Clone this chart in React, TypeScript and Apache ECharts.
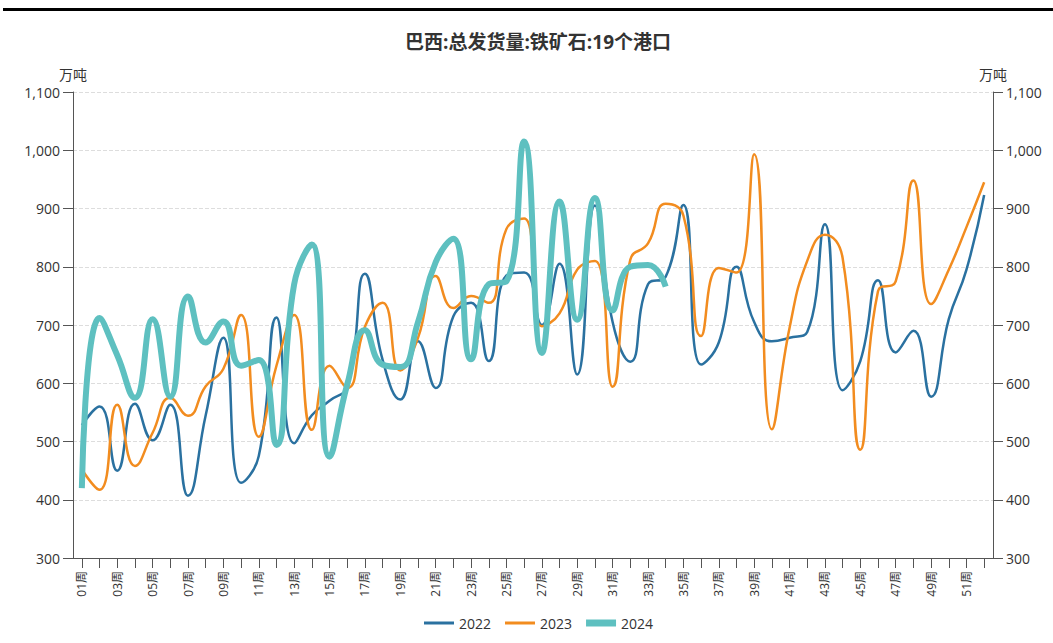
import React, { useEffect, useRef } from "react";
import * as echarts from "echarts";

const weeks = [
  "01周","02周","03周","04周","05周","06周","07周","08周","09周","10周",
  "11周","12周","13周","14周","15周","16周","17周","18周","19周","20周",
  "21周","22周","23周","24周","25周","26周","27周","28周","29周","30周",
  "31周","32周","33周","34周","35周","36周","37周","38周","39周","40周",
  "41周","42周","43周","44周","45周","46周","47周","48周","49周","50周",
  "51周","52周",
];

const s2022 = [
  528, 560, 450, 565, 502, 563, 407, 545, 678, 429,
  475, 713, 497, 545, 570, 595, 788, 640, 572, 672,
  592, 715, 738, 638, 785, 790, 700, 805, 615, 905,
  705, 637, 770, 783, 906, 632, 670, 800, 705, 672,
  678, 688, 873, 588, 638, 777, 653, 690, 577, 710,
  795, 923,
];

const s2023 = [
  452, 417, 563, 458, 515, 575, 544, 595, 625, 717,
  508, 630, 717, 520, 630, 592, 697, 738, 622, 678,
  784, 729, 750, 738, 865, 883, 698, 720, 795, 810,
  594, 812, 840, 908, 888, 681, 798, 790, 993, 521,
  695, 810, 855, 815, 486, 758, 775, 948, 736, 795,
  868, 945,
];

const s2024 = [
  420, 712, 648, 575, 710, 577, 749, 670, 706, 630,
  640, 494, 770, 838, 474, 598, 691, 632, 628, 705,
  808, 848, 641, 770, 775, 1015, 652, 912, 709, 918,
  725, 800, 803, 766,
];

const seriesNames = ["2022", "2023", "2024"];
const colors = ["#2a71a0", "#f28c1f", "#5ec0c0"];
const FONT = "'Open Sans', 'Noto Sans CJK SC', sans-serif";

export default function App() {
  const ref = useRef<HTMLDivElement>(null);
  useEffect(() => {
    if (!ref.current) return;
    const chart = echarts.init(ref.current, undefined, { renderer: "svg" });
    const fmt = (v: number) => v.toLocaleString("en-US");
    const yAxisBase = {
      type: "value" as const,
      min: 300,
      max: 1100,
      interval: 100,
      name: "万吨",
      nameLocation: "end" as const,
      nameGap: 11,
      nameTextStyle: { color: "#333", fontSize: 14, fontFamily: FONT },
      axisLine: { show: true, lineStyle: { color: "#555", width: 1 } },
      axisTick: { show: true, length: 10, lineStyle: { color: "#555" } },
      axisLabel: { color: "#333", fontSize: 14, margin: 13, fontFamily: FONT, formatter: fmt },
    };
    const thin = "path://M0 0h30v3H0z";
    const thick = "path://M0 0h30v7H0z";
    chart.setOption({
      animation: false,
      color: colors,
      textStyle: { fontFamily: FONT },
      title: {
        text: "巴西:总发货量:铁矿石:19个港口",
        left: 533,
        top: 27,
        textAlign: "center",
        textStyle: { fontSize: 19, fontWeight: "bold", color: "#333", fontFamily: FONT },
      },
      graphic: [
        { type: "rect", shape: { x: 3, y: 8, width: 1050, height: 3 }, style: { fill: "#000" } },
      ],
      legend: {
        data: [
          { name: seriesNames[0], icon: thin },
          { name: seriesNames[1], icon: thin },
          { name: seriesNames[2], icon: thick },
        ],
        left: 419,
        top: 611,
        itemWidth: 30,
        itemHeight: 14,
        itemGap: 14,
        textStyle: { fontSize: 14, color: "#333", fontFamily: FONT },
      },
      grid: { left: 73, right: 60, top: 92, bottom: 85, containLabel: false },
      xAxis: {
        type: "category",
        data: weeks,
        boundaryGap: true,
        axisLine: { show: true, lineStyle: { color: "#555" } },
        axisTick: { show: true, alignWithLabel: true, interval: 0, length: 10, lineStyle: { color: "#555" } },
        axisLabel: { rotate: 90, interval: 1, color: "#333", fontSize: 12, margin: 13, fontFamily: FONT },
      },
      yAxis: [
        {
          ...yAxisBase,
          position: "left",
          splitLine: { show: true, lineStyle: { color: "#ddd", type: "dashed" } },
        },
        {
          ...yAxisBase,
          position: "right",
          splitLine: { show: false },
        },
      ],
      series: [
        { name: "2022", type: "line", data: s2022, smooth: true, symbol: "none", lineStyle: { width: 2.5, color: colors[0] } },
        { name: "2023", type: "line", data: s2023, smooth: true, symbol: "none", lineStyle: { width: 2.5, color: colors[1] } },
        { name: "2024", type: "line", data: s2024, smooth: true, symbol: "none", lineStyle: { width: 6, color: colors[2] } },
      ],
    });
    return () => chart.dispose();
  }, []);
  return (
    <div
      ref={ref}
      style={{ position: "fixed", left: 0, top: 0, width: 1053, height: 643, background: "#fff" }}
    />
  );
}
